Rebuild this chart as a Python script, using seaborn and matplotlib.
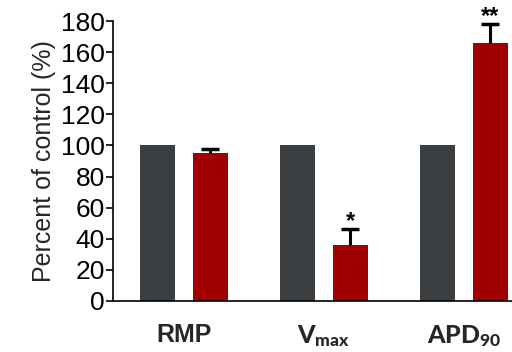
import matplotlib
matplotlib.use("Agg")
import matplotlib.pyplot as plt
import seaborn as sns
import pandas as pd

# Measured parameters and their values relative to control
parameters = ["RMP", "Vmax", "APD90"]
tick_labels = ["RMP", r"$\mathbf{V_{max}}$", r"$\mathbf{APD_{90}}$"]
control_values = [100, 100, 100]
treated_values = [95.1, 36.0, 165.8]
treated_sem = [2.6, 10.3, 12.2]
significance = ["", "*", "**"]

sns.set_theme(style="ticks")
plt.rcParams["font.family"] = ["Liberation Sans", "DejaVu Sans"]
plt.rcParams["mathtext.fontset"] = "custom"
plt.rcParams["mathtext.rm"] = "Lato"
plt.rcParams["mathtext.bf"] = "Lato:black"

df = pd.DataFrame({
    "parameter": parameters * 2,
    "group": ["Control"] * 3 + ["Treated"] * 3,
    "value": control_values + treated_values,
})

fig = plt.figure(figsize=(5.12, 3.52), dpi=100)
ax = fig.add_axes([0.2207, 0.1449, 0.7793, 0.7954])

sns.barplot(data=df, x="parameter", y="value", hue="group",
            palette=["#3c3f42", "#a00000"], saturation=1,
            width=0.757, gap=0.34, errorbar=None, legend=False,
            ax=ax, edgecolor="none")

# upper-only error bars and significance marks on treated bars
treated_bars = ax.patches[3:6]
for bar, val, err, sig in zip(treated_bars, treated_values, treated_sem, significance):
    xc = bar.get_x() + bar.get_width() / 2
    _, caps, _ = ax.errorbar(xc, val, yerr=[[0], [err]], fmt="none",
                             ecolor="black", elinewidth=2.2, capsize=6.5,
                             capthick=2.5, clip_on=False)
    caps[0].set_visible(False)
    if sig:
        ax.text(xc, val + err + 0.8, sig, ha="center", va="baseline",
                fontsize=17, fontweight="bold", color="black", clip_on=False)

ax.set_xlim(-0.507, 2.343)
ax.set_ylim(0, 180)
ax.set_yticks(range(0, 181, 20))
ax.tick_params(axis="y", labelsize=19, length=5, width=1.2, pad=1, colors="black")
ax.tick_params(axis="x", length=0, pad=16)
ax.set_xticks(range(3))
ax.set_xticklabels(tick_labels, fontsize=18, fontweight="bold")
ax.set_xlabel("")
ax.set_ylabel("Percent of control (%)", fontsize=18, labelpad=3)
for s in ["top", "right"]:
    ax.spines[s].set_visible(False)
for s in ["left", "bottom"]:
    ax.spines[s].set_linewidth(1.2)
    ax.spines[s].set_color("black")

fig.savefig("out.png", dpi=100)
